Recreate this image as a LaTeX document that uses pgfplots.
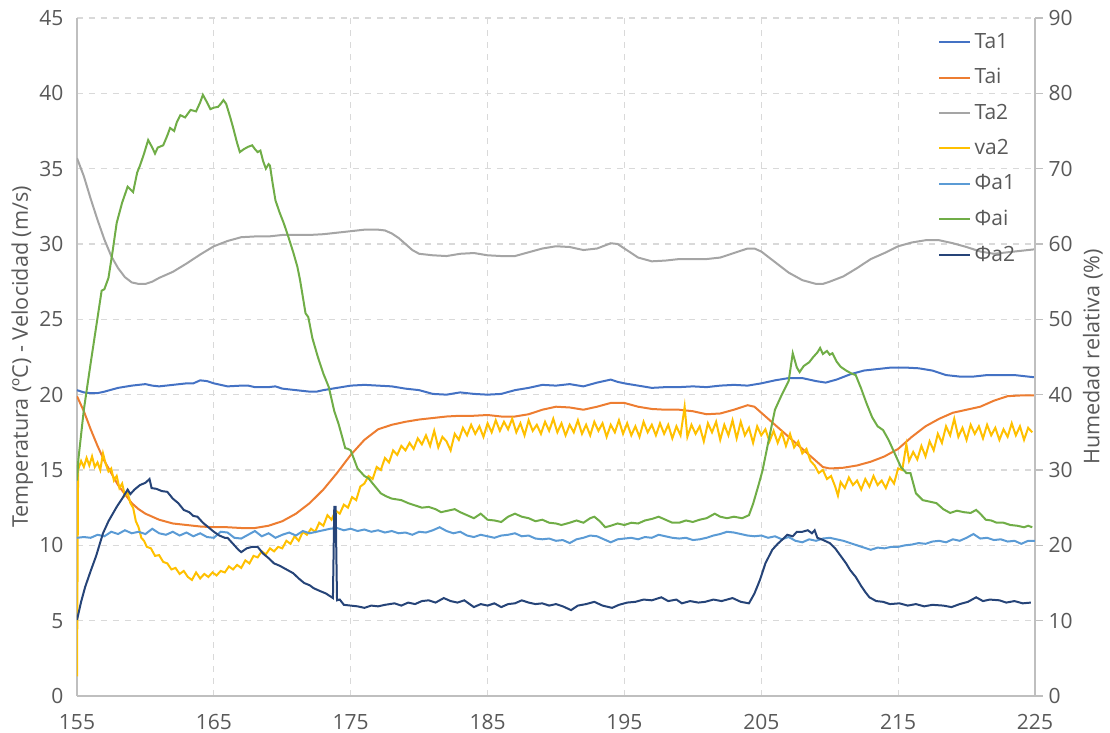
\documentclass[border=0pt]{standalone}
\usepackage{pgfplots}
\pgfplotsset{compat=1.18}
\usepackage{fontspec}
\setmainfont{Open Sans}
\definecolor{taonecol}{HTML}{4472C4}
\definecolor{taicol}{HTML}{ED7D31}
\definecolor{tatwocol}{HTML}{A5A5A5}
\definecolor{vacol}{HTML}{FFC000}
\definecolor{fonecol}{HTML}{5B9BD5}
\definecolor{ficol}{HTML}{70AD47}
\definecolor{ftwocol}{HTML}{264478}
\definecolor{txt}{HTML}{595959}
\definecolor{axl}{HTML}{BFBFBF}
\definecolor{grd}{HTML}{D9D9D9}

\pgfplotsset{
  base/.style={
    scale only axis, width=479pt, height=339pt,
    at={(0,0)}, anchor=south west,
    xmin=155, xmax=225, ymin=0,
    /pgf/number format/assume math mode=true,
    tick label style={font=\fontsize{10.5}{12}\selectfont, text=txt},
    label style={font=\fontsize{10.8}{12}\selectfont, text=txt},
    axis line style={axl, line width=0.8pt},
  },
  ser/.style={line width=1pt, no markers},
}

\begin{document}
\begin{tikzpicture}
\useasboundingbox (-38.5pt,-18.5pt) rectangle (516.5pt,348pt);
\begin{axis}[base,
    ymax=45, ytick={0,5,...,45},
    xtick={155,165,...,225},
    axis x line*=bottom, axis y line*=left,
    major tick length=0pt,
    yticklabel style={xshift=-3.3pt},
    xticklabel style={yshift=-5.8pt},
    grid=major, grid style={grd, dashed, line width=0.6pt},
    ylabel={Temperatura (ºC) - Velocidad (m/s)},
    ylabel style={at={(axis description cs:-0.0570,0.5)}, anchor=center},
]
% Ta1
\addplot[ser, taonecol] coordinates {
(155,20.3) (155.5,20.15) (156,20.1) (156.5,20.1) (157,20.2) (158,20.45) (159,20.6) (160,20.7) (160.5,20.6) (161,20.55)
(162,20.65) (163,20.75) (163.5,20.75) (164,20.95) (164.5,20.9) (165,20.75) (166,20.55) (167,20.6) (167.5,20.6) (168,20.5)
(169,20.5) (169.5,20.55) (170,20.4) (171,20.3) (172,20.2) (172.5,20.2) (173,20.3) (174,20.45) (175,20.6) (176,20.65)
(177,20.6) (178,20.55) (179,20.4) (180,20.3) (181,20.05) (182,20.0) (183,20.15) (184,20.05) (185,20.0) (186,20.05)
(187,20.3) (188,20.45) (189,20.65) (190,20.6) (191,20.7) (192,20.55) (193,20.8) (194,21.0) (194.5,20.85) (195,20.75)
(196,20.6) (197,20.45) (198,20.5) (199,20.5) (200,20.55) (201,20.5) (202,20.6) (203,20.65) (204,20.6) (205,20.75)
(206,20.95) (207,21.1) (208,21.1) (209,20.9) (209.7,20.8) (210.5,21.0) (211.5,21.35) (212.5,21.6) (213.5,21.7) (214.5,21.8)
(215.5,21.8) (216.5,21.75) (217.5,21.6) (218.5,21.3) (219.5,21.2) (220.5,21.2) (221.5,21.3) (222.5,21.3) (223.5,21.3) (224.5,21.2) (225,21.15)
};
% Tai
\addplot[ser, taicol] coordinates {
(155,19.9) (155.5,18.9) (156,17.7) (156.5,16.6) (157,15.6) (157.5,14.8) (158,14.0) (158.5,13.4) (159,12.8) (159.5,12.4)
(160,12.1) (161,11.7) (162,11.45) (163,11.35) (164,11.25) (165,11.2) (166,11.2) (167,11.15) (168,11.15) (169,11.3)
(170,11.6) (171,12.1) (172,12.8) (173,13.7) (174,14.8) (175,16.0) (176,17.0) (177,17.7) (178,18.0) (179,18.2)
(180,18.35) (181,18.45) (182,18.55) (183,18.6) (184,18.6) (185,18.65) (186,18.55) (187,18.55) (188,18.7) (189,19.0)
(190,19.2) (191,19.15) (192,19.0) (193,19.2) (194,19.45) (195,19.45) (196,19.2) (197,19.05) (198,19.0) (199,19.0)
(200,18.9) (201,18.7) (202,18.75) (203,19.0) (204,19.3) (204.5,19.2) (205,18.8) (206,18.0) (207,17.2) (208,16.4)
(209,15.6) (209.5,15.2) (210,15.1) (211,15.15) (212,15.3) (213,15.55) (214,15.9) (215,16.4) (216,17.2) (217,17.9)
(218,18.4) (219,18.8) (220,19.0) (221,19.2) (222,19.6) (223,19.9) (224,19.95) (225,19.95)
};
% Ta2
\addplot[ser, tatwocol] coordinates {
(155,35.7) (155.5,34.5) (156,33.0) (156.5,31.6) (157,30.3) (157.5,29.2) (158,28.4) (158.5,27.8) (159,27.45) (159.5,27.35)
(160,27.35) (160.5,27.5) (161,27.75) (162,28.15) (163,28.7) (164,29.3) (165,29.85) (166,30.2) (167,30.45) (168,30.5)
(169,30.5) (170,30.6) (171,30.6) (172,30.6) (173,30.65) (174,30.75) (175,30.85) (176,30.95) (177,30.95) (177.5,30.9)
(178,30.7) (178.5,30.4) (179,30.0) (179.5,29.6) (180,29.35) (181,29.25) (182,29.2) (183,29.35) (184,29.4) (185,29.25)
(186,29.2) (187,29.2) (188,29.45) (189,29.7) (190,29.85) (191,29.8) (192,29.6) (193,29.7) (194,30.05) (194.5,30.0)
(195,29.7) (196,29.1) (197,28.85) (198,28.9) (199,29.0) (200,29.0) (201,29.0) (202,29.1) (203,29.4) (204,29.7)
(204.5,29.7) (205,29.5) (206,28.8) (207,28.1) (208,27.6) (209,27.35) (209.5,27.35) (210,27.5) (211,27.85) (212,28.4)
(213,29.0) (214,29.4) (215,29.85) (216,30.1) (217,30.25) (218,30.25) (219,30.05) (220,29.8) (221,29.5) (222,29.35)
(223,29.45) (224,29.55) (225,29.65)
};
% va2
\addplot[ser, vacol] coordinates {
(155,1.3) (155.08,15.0) (155.3,15.6) (155.5,15.2) (155.7,15.8) (155.9,15.3) (156.1,15.9) (156.3,15.2) (156.5,15.5) (156.7,15.0)
(156.9,16.1) (157.1,15.4) (157.3,14.9) (157.5,15.1) (157.7,14.3) (157.9,14.6) (158.1,13.8) (158.3,14.1) (158.5,13.3) (158.7,13.5)
(158.9,12.8) (159.1,12.5) (159.3,11.6) (159.5,11.2) (159.7,10.5) (159.9,10.3) (160.1,9.9) (160.4,9.8) (160.7,9.3) (161,9.35)
(161.3,8.9) (161.6,8.8) (161.9,8.4) (162.2,8.5) (162.5,8.1) (162.8,8.3) (163.1,7.9) (163.4,7.7) (163.7,8.2) (164,7.8)
(164.3,8.1) (164.6,7.9) (164.9,8.2) (165.2,8.0) (165.5,8.3) (165.8,8.2) (166.1,8.6) (166.4,8.4) (166.7,8.7) (167,8.5)
(167.3,9.0) (167.6,8.8) (167.9,9.3) (168.2,9.2) (168.5,9.6) (168.8,9.4) (169.1,9.8) (169.4,9.6) (169.7,9.9) (170,9.8)
(170.3,10.3) (170.6,10.1) (170.9,10.6) (171.2,10.3) (171.5,10.9) (171.8,10.7) (172.1,11.1) (172.4,10.9) (172.7,11.5) (173,11.3)
(173.3,12.0) (173.6,11.7) (173.9,12.3) (174.2,12.1) (174.5,12.7) (174.8,12.5) (175.1,13.2) (175.4,13.0) (175.7,13.9) (176,14.1)
(176.3,14.6) (176.6,14.4) (176.9,15.2) (177.2,15.0) (177.5,15.8) (177.8,15.5) (178.1,16.3) (178.4,16.0) (178.7,16.6) (179,16.3)
(179.3,16.8) (179.6,16.4) (179.9,17.1) (180.2,16.7) (180.5,17.3) (180.8,16.6) (181.1,17.6) (181.4,16.5) (181.7,17.2) (182,16.9)
(182.3,16.3) (182.6,17.4) (182.9,17.0) (183.2,17.8) (183.5,17.3) (183.8,18.0) (184.1,17.4) (184.4,17.9) (184.7,17.2) (185,18.1)
(185.3,17.5) (185.6,18.3) (185.9,17.6) (186.2,18.2) (186.5,17.7) (186.8,18.4) (187.1,17.5) (187.4,18.1) (187.7,17.3) (188,18.3)
(188.3,17.6) (188.6,18.0) (188.9,17.4) (189.2,18.2) (189.5,17.6) (189.8,18.4) (190.1,17.5) (190.4,18.1) (190.7,17.3) (191,18.0)
(191.3,17.5) (191.6,18.3) (191.9,17.4) (192.2,18.0) (192.5,17.3) (192.8,18.2) (193.1,17.6) (193.4,18.1) (193.7,17.2) (194,18.0)
(194.3,17.5) (194.6,18.3) (194.9,17.4) (195.2,18.1) (195.5,17.3) (195.8,17.9) (196.1,17.2) (196.4,18.2) (196.7,17.5) (197,18.0)
(197.3,17.3) (197.6,18.1) (197.9,17.4) (198.2,18.0) (198.5,17.1) (198.8,17.9) (199.1,17.3) (199.4,19.2) (199.6,17.2) (199.9,18.0)
(200.2,17.4) (200.5,17.9) (200.8,16.9) (201.1,18.1) (201.4,17.5) (201.7,18.2) (202,17.0) (202.3,18.0) (202.6,17.3) (202.9,18.3)
(203.2,17.1) (203.5,18.2) (203.8,17.3) (204.1,17.8) (204.4,16.8) (204.7,17.9) (205,17.3) (205.3,17.7) (205.6,16.9) (205.9,17.6)
(206.2,16.8) (206.5,17.5) (206.8,16.6) (207.1,17.4) (207.4,16.5) (207.7,16.9) (208,16.1) (208.3,16.4) (208.6,15.6) (208.9,15.3)
(209.2,14.8) (209.5,15.0) (209.8,14.4) (210.1,14.6) (210.4,13.9) (210.6,13.3) (210.8,14.2) (211.1,13.8) (211.4,14.5) (211.7,14.0)
(212,14.3) (212.3,13.7) (212.6,14.4) (212.9,13.9) (213.2,14.6) (213.5,14.0) (213.8,14.3) (214.1,13.8) (214.4,14.5) (214.7,14.1)
(215,15.1) (215.3,15.0) (215.6,16.7) (215.8,15.6) (216.1,16.2) (216.4,15.7) (216.7,16.6) (217,15.9) (217.3,16.9) (217.6,16.3)
(217.9,17.4) (218.2,16.8) (218.5,17.9) (218.8,17.3) (219.1,18.4) (219.4,17.2) (219.7,17.8) (220,17.0) (220.3,18.0) (220.6,17.4)
(220.9,17.9) (221.2,17.1) (221.5,18.0) (221.8,17.3) (222.1,17.8) (222.4,17.0) (222.7,17.7) (223,17.2) (223.3,18.1) (223.6,17.3)
(223.9,17.9) (224.2,17.0) (224.5,17.8) (224.8,17.5)
};
\end{axis}

\begin{axis}[base,
    ymax=90, ytick={0,10,...,90},
    axis x line=none, axis y line*=right,
    ytick pos=right, tick align=outside,
    major tick length=4pt, ytick style={axl, line width=0.8pt},
    yticklabel style={xshift=-0.7pt},
    ylabel={Humedad relativa (\%)},
    ylabel style={at={(axis description cs:1.0605,0.5)}, anchor=center},
    legend style={at={(0.990,0.990)}, anchor=north east, draw=none, fill=none,
      font=\fontsize{10.5}{11}\selectfont, text=txt, row sep=4.6pt,
      legend cell align=left},
    legend image code/.code={\draw[#1] (0cm,0cm) -- (0.53cm,0cm);},
]
\addlegendimage{ser, taonecol}\addlegendentry{Ta1}
\addlegendimage{ser, taicol}\addlegendentry{Tai}
\addlegendimage{ser, tatwocol}\addlegendentry{Ta2}
\addlegendimage{ser, vacol}\addlegendentry{va2}
% Phi a1
\addplot[ser, fonecol] coordinates {
(155,21.0) (155.5,21.1) (156,21.0) (156.5,21.4) (157,21.2) (157.5,21.8) (158,21.5) (158.5,22.0) (159,21.6) (159.5,21.8)
(160,21.5) (160.5,22.2) (161,21.6) (161.5,21.4) (162,21.8) (162.5,21.3) (163,21.7) (163.5,21.2) (164,21.6) (164.5,21.1)
(165,21.0) (165.5,21.8) (166,21.7) (166.5,21.0) (167,20.9) (167.5,21.4) (168,21.9) (168.5,21.2) (169,21.6) (169.5,21.0)
(170,21.4) (170.5,21.7) (171,21.3) (171.5,21.9) (172,21.6) (172.5,21.8) (173,22.0) (173.5,22.2) (174,22.3) (174.5,22.0)
(175,22.2) (175.5,21.9) (176,22.1) (176.5,21.8) (177,22.0) (177.5,21.7) (178,21.9) (178.5,21.6) (179,21.7) (179.5,21.4)
(180,21.8) (180.5,21.7) (181,22.0) (181.5,22.4) (182,21.9) (182.5,21.6) (183,21.8) (183.5,21.3) (184,21.1) (184.5,21.4)
(185,21.2) (185.5,21.0) (186,21.3) (186.5,21.4) (187,21.6) (187.5,21.2) (188,21.3) (188.5,20.9) (189,20.8) (189.5,20.9)
(190,20.6) (190.5,20.7) (191,20.3) (191.5,20.8) (192,21.0) (192.5,21.3) (193,21.2) (193.5,20.8) (194,20.4) (194.5,20.8)
(195,20.9) (195.5,21.0) (196,20.8) (196.5,21.1) (197,21.0) (197.5,21.4) (198,21.2) (198.5,21.0) (199,20.9) (199.5,21.0)
(200,20.7) (200.5,20.8) (201,21.0) (201.5,21.3) (202,21.5) (202.5,21.8) (203,21.7) (203.5,21.5) (204,21.3) (204.5,21.2)
(205,21.3) (205.5,21.0) (206,21.2) (206.5,20.8) (207,21.1) (207.5,20.6) (208,20.4) (208.5,20.8) (209,20.6) (209.5,20.9)
(210,21.0) (210.5,20.8) (211,20.6) (211.5,20.3) (212,20.0) (212.5,19.7) (213,19.4) (213.5,19.7) (214,19.6) (214.5,19.8)
(215,19.8) (215.5,20.0) (216,20.1) (216.5,20.3) (217,20.2) (217.5,20.5) (218,20.6) (218.5,20.4) (219,20.8) (219.5,20.6)
(220,21.0) (220.5,21.5) (221,20.9) (221.5,21.0) (222,20.7) (222.5,20.8) (223,20.5) (223.5,20.6) (224,20.2) (224.5,20.6) (225,20.6)
};
\addlegendentry{Φa1}
% Phi ai
\addplot[ser, ficol] coordinates {
(155,28.6) (155.1,31.4) (155.5,38) (156,44.2) (156.4,49) (156.8,53.8) (157,54.0) (157.3,55.5) (157.6,59) (157.9,62.8)
(158.3,65.5) (158.7,67.6) (159.1,66.9) (159.4,69.5) (159.6,70.4) (159.9,72) (160.2,73.8) (160.5,72.8) (160.7,72.0) (160.9,72.8)
(161.3,73.1) (161.6,74.4) (161.8,75.4) (162.1,75.0) (162.3,76.2) (162.55,77.1) (162.9,76.8) (163.3,77.8) (163.7,77.6) (164.0,78.8)
(164.2,79.8) (164.5,78.8) (164.75,77.9) (165.0,78.1) (165.3,78.2) (165.5,78.6) (165.7,79.1) (165.9,78.6) (166.2,76.8) (166.4,75.5)
(166.7,73.4) (166.9,72.2) (167.2,72.6) (167.5,72.9) (167.8,73.1) (168.0,72.6) (168.2,72.2) (168.4,72.4) (168.6,71.0) (168.8,70.0)
(169.0,70.6) (169.1,70.4) (169.3,68.0) (169.5,65.8) (169.8,64.2) (170.1,62.8) (170.4,61.2) (170.8,58.9) (171.1,57.0) (171.3,55.2)
(171.5,53.0) (171.7,50.8) (171.9,50.3) (172.2,47.5) (172.6,45.0) (173.0,42.8) (173.4,41.0) (173.8,37.8) (174.1,36.2) (174.3,34.9)
(174.6,32.9) (174.8,32.8) (175.0,32.6) (175.5,30.2) (176.0,29.2) (176.3,28.9) (176.7,28.0) (177.2,26.9) (177.6,26.5) (178.0,26.2)
(178.7,26.0) (179.2,25.6) (179.7,25.3) (180.2,25.0) (180.7,25.1) (181.2,24.8) (181.6,24.4) (182.1,24.6) (182.6,24.8) (183.0,24.4)
(183.5,24.0) (184.0,23.6) (184.5,24.2) (185.0,23.4) (185.5,23.3) (186.0,23.1) (186.5,23.8) (187.0,24.2) (187.5,23.8) (188.0,23.6)
(188.5,23.2) (189.0,23.4) (189.5,23.0) (190.0,22.9) (190.4,22.7) (191.0,23.0) (191.5,23.3) (192.0,23.0) (192.5,23.6) (192.8,23.8)
(193.2,23.2) (193.6,22.4) (194.0,22.6) (194.5,22.9) (195.0,22.7) (195.5,23.0) (196.0,22.9) (196.5,23.3) (197.0,23.5) (197.5,23.8)
(198.0,23.4) (198.5,23.0) (199.0,23.0) (199.5,23.3) (200.0,23.1) (200.5,23.4) (201.0,23.6) (201.6,24.2) (202.0,23.8) (202.5,23.6)
(203.0,23.8) (203.6,23.6) (204.1,24.0) (204.4,25.5) (204.8,28.0) (205.1,30.0) (205.5,33.6) (206.0,38.0) (206.5,40.0) (207.0,41.8)
(207.3,45.5) (207.6,43.6) (207.8,43.0) (208.1,43.8) (208.5,44.3) (208.8,45.0) (209.1,45.6) (209.3,46.2) (209.5,45.4) (209.8,45.8)
(210.0,45.3) (210.2,45.5) (210.5,44.4) (210.8,43.7) (211.2,43.2) (211.6,42.8) (211.9,42.6) (212.3,40.8) (212.7,38.8) (213.1,37.0)
(213.5,35.8) (213.9,35.3) (214.3,34.0) (214.8,32.0) (215.2,30.4) (215.6,29.6) (215.9,29.6) (216.3,26.9) (216.8,26.0) (217.3,25.8)
(217.8,25.6) (218.3,24.8) (218.8,24.3) (219.3,24.6) (219.8,24.4) (220.3,24.3) (220.7,24.7) (221.0,24.2) (221.4,23.4) (221.8,23.3)
(222.2,23.0) (222.7,23.0) (223.2,22.7) (223.7,22.6) (224.2,22.4) (224.5,22.6) (224.8,22.4)
};
\addlegendentry{Φai}
% Phi a2
\addplot[ser, ftwocol] coordinates {
(155,10.1) (155.3,12.5) (155.6,14.5) (156.0,16.6) (156.4,18.6) (156.9,21.6) (157.3,23.2) (157.9,25.1) (158.3,26.2) (158.7,27.4)
(158.9,26.8) (159.2,27.4) (159.6,28.0) (160.0,28.3) (160.3,28.8) (160.45,27.6) (160.8,27.5) (161.2,27.2) (161.6,27.1) (162.0,26.2)
(162.4,25.6) (162.8,24.7) (163.2,24.4) (163.5,23.9) (163.8,23.8) (164.2,23.0) (164.6,22.4) (165.0,21.8) (165.4,21.3) (165.8,21.0)
(166.0,21.0) (166.4,20.2) (166.8,19.4) (167.0,19.1) (167.4,19.6) (167.8,19.8) (168.2,19.8) (168.6,18.9) (169.0,18.3) (169.4,17.6)
(169.8,17.3) (170.2,16.9) (170.8,16.3) (171.2,15.6) (171.6,15.0) (172.0,14.7) (172.3,14.3) (172.8,13.9) (173.2,13.6) (173.7,13.0)
(173.8,25.1) (173.9,25.1) (174.0,12.7) (174.2,12.8) (174.5,12.1) (175.0,12.0) (175.5,11.9) (176.0,11.7) (176.5,12.0) (177.0,11.9)
(177.5,12.1) (178.2,12.3) (178.7,12.0) (179.2,12.4) (179.7,12.2) (180.2,12.6) (180.7,12.7) (181.2,12.4) (181.8,13.0) (182.3,12.6)
(182.8,12.4) (183.3,12.7) (184.0,11.8) (184.5,12.2) (185.0,12.0) (185.5,12.3) (186.0,11.8) (186.5,12.2) (187.0,12.3) (187.5,12.7)
(188.0,12.4) (188.5,12.2) (189.0,12.3) (189.5,12.0) (190.0,12.2) (190.5,11.9) (191.1,11.4) (191.6,12.0) (192.2,12.2) (192.8,12.5)
(193.4,12.0) (194.1,11.7) (194.6,12.1) (195.2,12.4) (195.8,12.5) (196.4,12.8) (197.0,12.7) (197.7,13.1) (198.2,12.6) (198.8,12.8)
(199.2,12.3) (199.8,12.6) (200.4,12.4) (200.9,12.5) (201.5,12.8) (202.1,12.6) (202.9,13.0) (203.5,12.5) (204.1,12.3) (204.5,13.6)
(204.9,15.4) (205.3,17.6) (205.8,19.4) (206.2,20.2) (206.5,20.7) (206.9,21.4) (207.3,21.2) (207.6,21.8) (208.0,21.8) (208.4,22.0)
(208.7,21.6) (208.9,22.0) (209.1,21.0) (209.4,20.8) (210.0,20.3) (210.4,19.6) (210.8,18.6) (211.2,17.6) (211.5,16.7) (211.9,15.8)
(212.3,14.6) (212.6,13.8) (212.9,13.1) (213.4,12.6) (213.9,12.5) (214.4,12.2) (215.1,12.3) (215.7,12.0) (216.3,12.2) (216.9,11.9)
(217.5,12.1) (218.3,12.0) (218.9,11.8) (219.5,12.2) (220.1,12.5) (220.7,13.1) (221.2,12.6) (221.7,12.8) (222.4,12.7) (222.9,12.4)
(223.5,12.6) (224.1,12.3) (224.7,12.4)
};
\addlegendentry{Φa2}
\end{axis}
\end{tikzpicture}
\end{document}
